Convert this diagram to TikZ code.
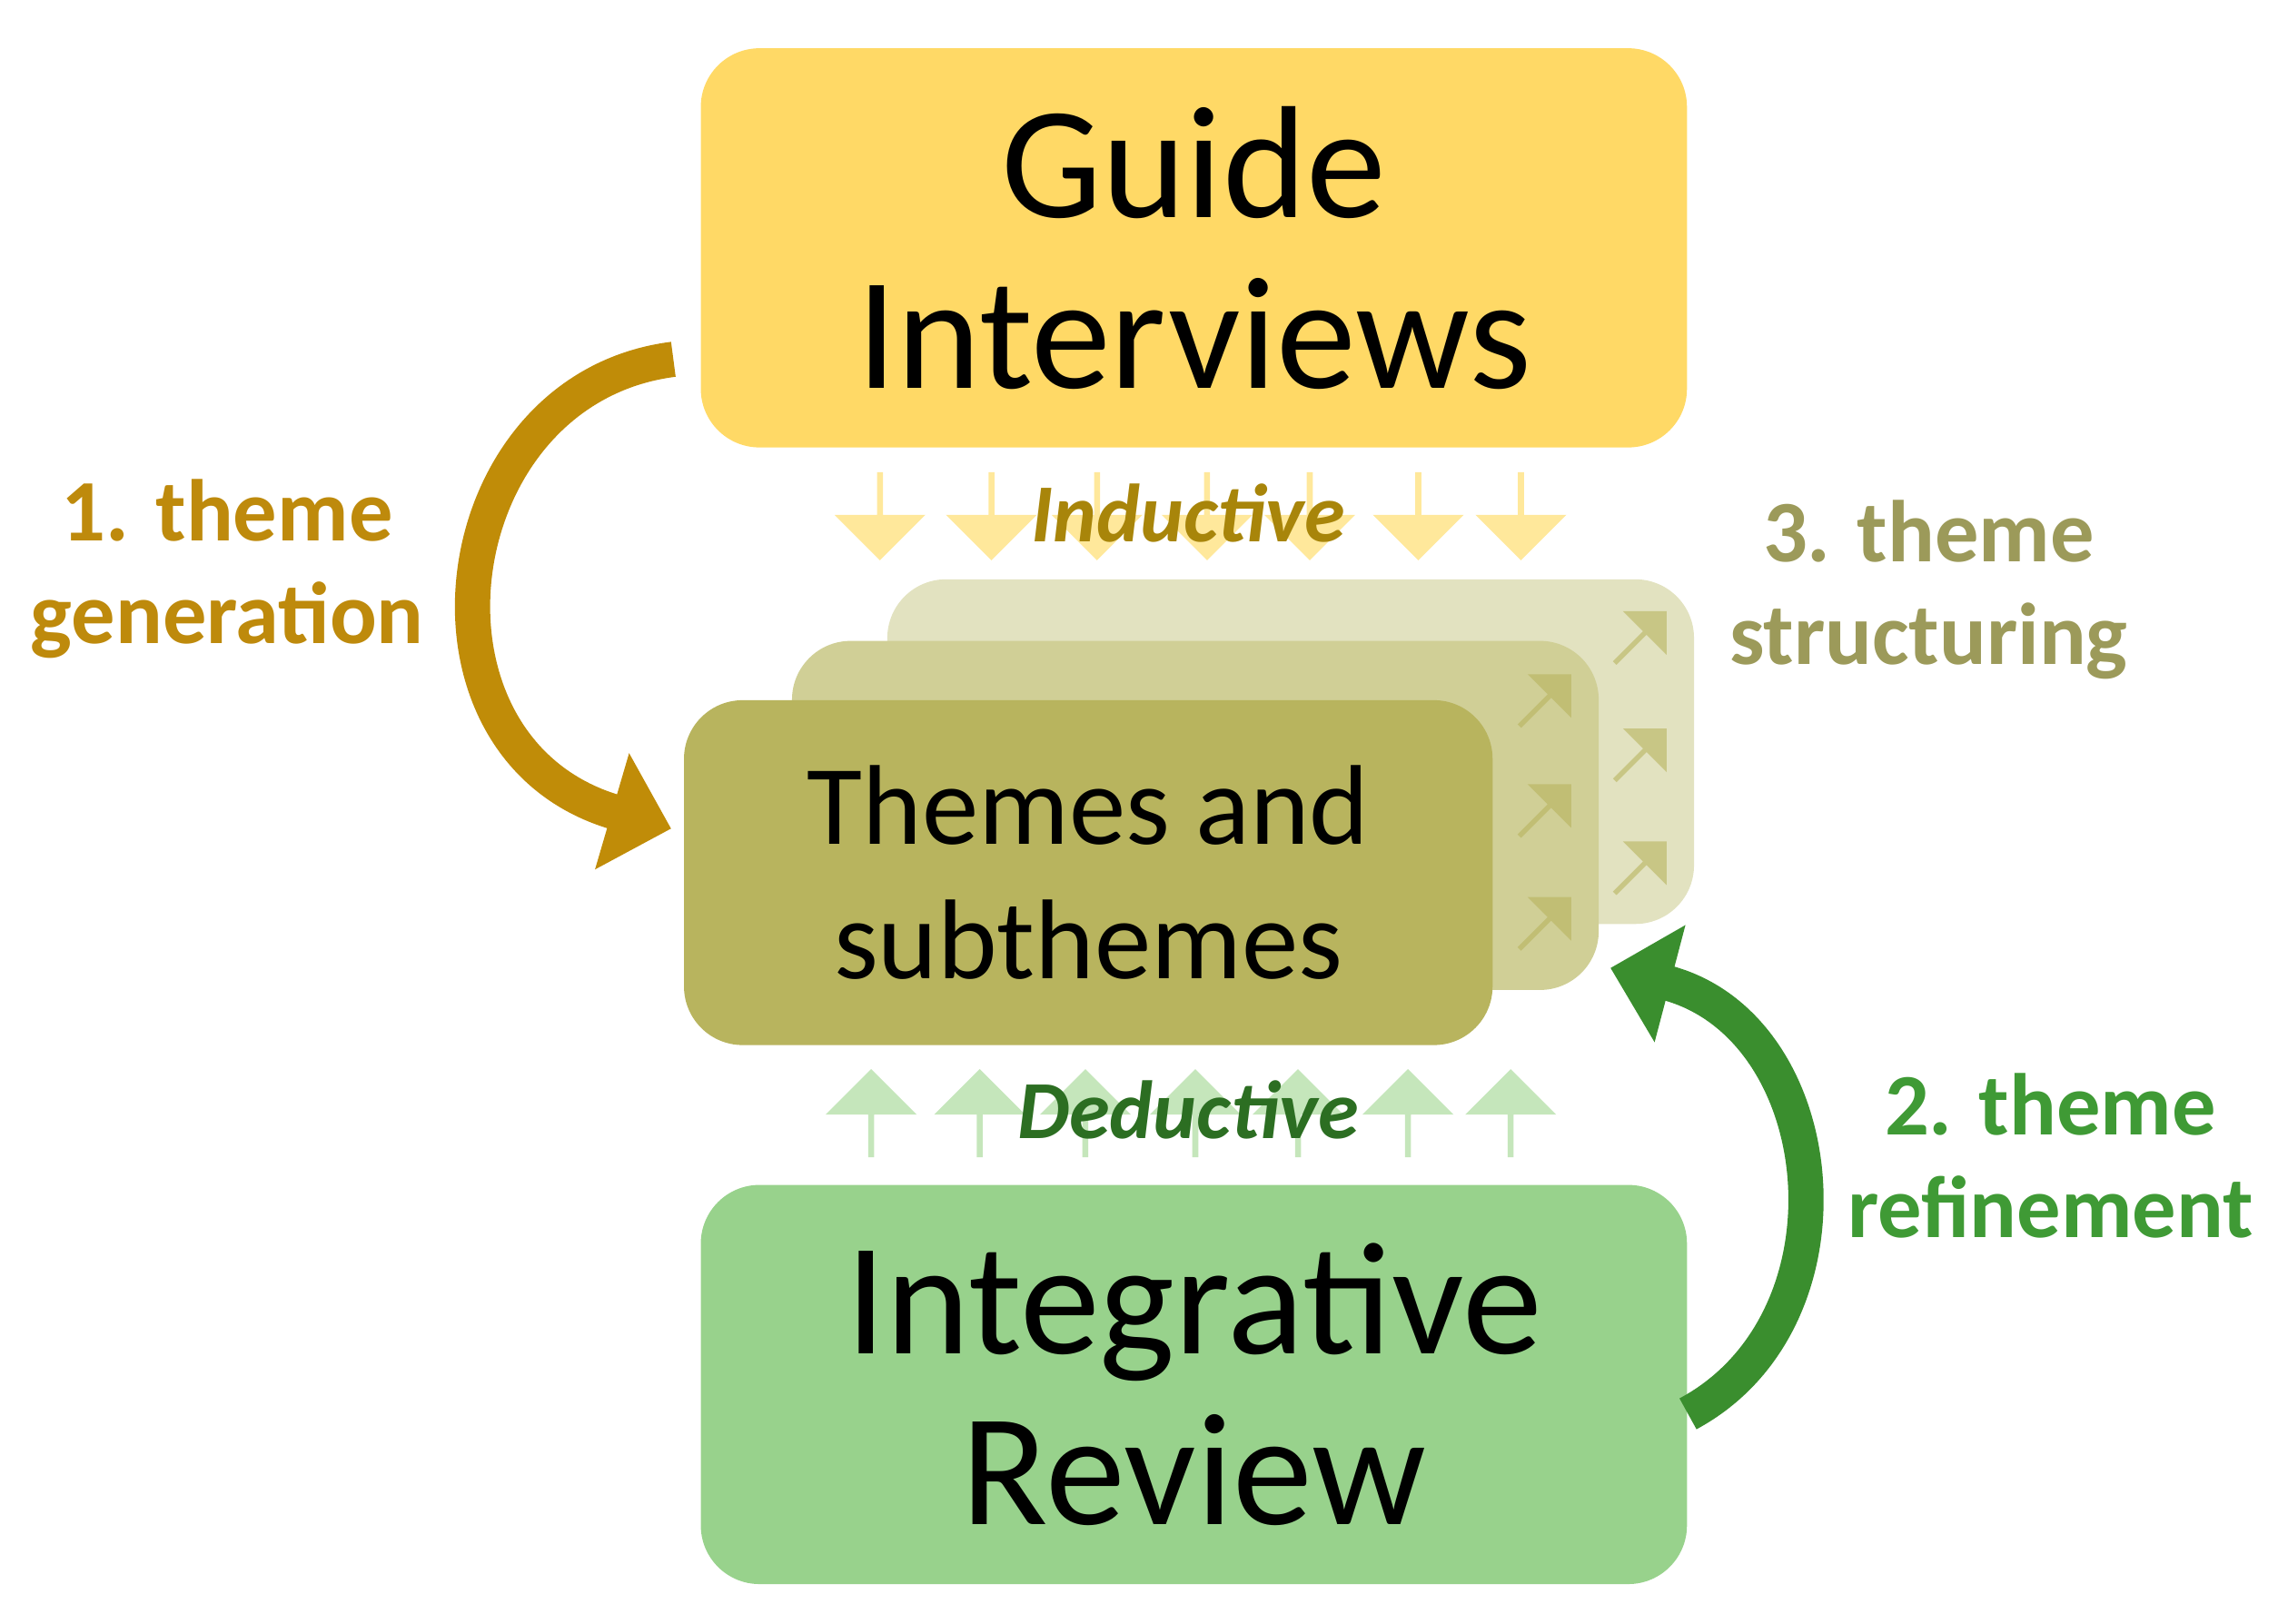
\documentclass[tikz,border=0pt]{standalone}
\usepackage{fontspec}
\setmainfont{Carlito}
\usetikzlibrary{arrows.meta,shapes.arrows}
\definecolor{gold}{HTML}{FFD966}
\definecolor{olive1}{HTML}{B8B45E}
\definecolor{olive2}{HTML}{D0CF96}
\definecolor{olive3}{HTML}{E2E2C0}
\definecolor{grn}{HTML}{98D28C}
\definecolor{lab1}{HTML}{BE8A0C}
\definecolor{lab2}{HTML}{3F9A35}
\definecolor{lab3}{HTML}{9C9A5A}
\definecolor{arr1}{HTML}{C08C08}
\definecolor{arr2}{HTML}{3A8E2E}
\definecolor{ind}{HTML}{A8850A}
\definecolor{ded}{HTML}{2C6E22}
\definecolor{pyel}{HTML}{FFE48A}
\definecolor{pgrn}{HTML}{BFE3B4}
\begin{document}
\begin{tikzpicture}[x=0.01cm,y=-0.01cm,
  box/.style={rounded corners=0.4cm,inner sep=0pt,align=center,text=black},
  lab/.style={font=\fontsize{17}{20}\selectfont\bfseries,align=center},
  dn/.style={single arrow,draw=none,fill=pyel,fill opacity=0.85,minimum width=0.62cm,single arrow head extend=0.1cm,minimum height=0.6cm,inner sep=0pt,rotate=-90},
  up/.style={single arrow,draw=none,fill=pgrn,fill opacity=0.9,minimum width=0.62cm,single arrow head extend=0.1cm,minimum height=0.6cm,inner sep=0pt,rotate=90},
  dg/.style={single arrow,draw=none,fill=olive1,fill opacity=0.6,minimum width=0.42cm,single arrow head extend=0.08cm,minimum height=0.5cm,inner sep=0pt,rotate=45},
  curv/.style={line width=0.24cm,-{Triangle[length=0.42cm,width=0.8cm]}}]
\useasboundingbox (0,0) rectangle (1560,1107);
% stacked theme boxes
\fill[olive3,rounded corners=0.4cm] (605,395) rectangle (1155,630);
\node[dg] (a1) at (1118,435) {};
\node[dg] (a2) at (1118,515) {};
\node[dg] (a3) at (1118,592) {};
\fill[olive2,rounded corners=0.4cm] (540,437) rectangle (1090,675);
\node[dg] (b1) at (1053,478) {};
\node[dg] (b2) at (1053,553) {};
\node[dg] (b3) at (1053,630) {};
\node[box,fill=olive1,minimum width=5.51cm,minimum height=2.35cm,font=\fontsize{22}{26}\selectfont] (themes) at (742,595) {Themes and\\subthemes};
% main boxes
\node[box,fill=gold,minimum width=6.72cm,minimum height=2.72cm,font=\fontsize{31}{33}\selectfont] (guide) at (814,169) {Guide\\Interviews};
\node[box,fill=grn,minimum width=6.72cm,minimum height=2.72cm,font=\fontsize{31}{33}\selectfont] (review) at (814,944) {Integrative\\Review};
% inductive arrows
\foreach \x [count=\i] in {600,676,748,823,893,967,1037}
  \node[dn] (d\i) at (\x,351) {};
\node[font=\fontsize{16}{18}\selectfont\bfseries\itshape,text=ind] (induct) at (810,350) {Inductive};
\foreach \x [count=\i] in {594,668,740,815,885,960,1030}
  \node[up] (u\i) at (\x,760) {};
\node[font=\fontsize{16}{18}\selectfont\bfseries\itshape,text=ded] (deduct) at (810,757) {Deductive};
% curved arrows
\coordinate (s1) at ([shift={(-18,76)}]guide.west);
\coordinate (e1) at ([shift={(-8,-30)}]themes.west);
\draw[curv,arr1] (s1) .. controls (300,265) and (270,510) .. (e1);
\coordinate (s2) at ([shift={(0,20)}]review.east);
\coordinate (e2) at (1098,660);
\draw[curv,arr2] (s2) .. controls (1270,900) and (1250,700) .. (e2);
% labels
\node[lab,text=lab1] (l1) at (155,388) {1. theme\\generation};
\node[lab,text=lab2] (l2) at (1398,788) {2. theme\\refinement};
\node[lab,text=lab3] (l3) at (1315,402) {3. theme\\structuring};
\end{tikzpicture}
\end{document}
